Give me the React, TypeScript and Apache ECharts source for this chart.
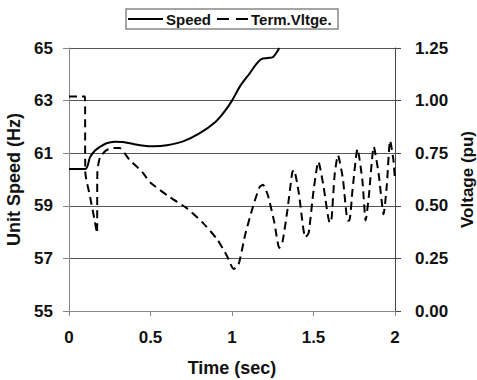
import React, { useEffect, useRef } from "react";
import * as echarts from "echarts";

const speedData: [number, number][] = [
  [0, 60.4], [0.1, 60.4], [0.13, 60.86], [0.16, 61.1], [0.19, 61.24], [0.23, 61.38],
  [0.28, 61.44], [0.33, 61.43], [0.4, 61.34], [0.46, 61.28], [0.52, 61.26], [0.6, 61.3],
  [0.7, 61.45], [0.8, 61.75], [0.9, 62.2], [0.95, 62.55], [1.0, 63.0], [1.05, 63.55],
  [1.11, 64.05], [1.15, 64.4], [1.18, 64.58], [1.22, 64.62], [1.25, 64.65], [1.29, 65.0],
];

const voltageData: [number, number][] = [
  [0, 1.02], [0.098, 1.02], [0.1, 0.66], [0.13, 0.54], [0.155, 0.44], [0.172, 0.37],
  [0.174, 0.66], [0.19, 0.73], [0.23, 0.765], [0.28, 0.775], [0.31, 0.775], [0.37, 0.72],
  [0.45, 0.66], [0.5, 0.61], [0.62, 0.54], [0.72, 0.49], [0.82, 0.42], [0.91, 0.34],
  [0.97, 0.26], [1.01, 0.2], [1.04, 0.22], [1.08, 0.36], [1.13, 0.5], [1.17, 0.59],
  [1.19, 0.6], [1.22, 0.55], [1.26, 0.42], [1.29, 0.3], [1.31, 0.33], [1.34, 0.48],
  [1.37, 0.66], [1.38, 0.67], [1.41, 0.56], [1.45, 0.35], [1.47, 0.37], [1.5, 0.57],
  [1.53, 0.71], [1.56, 0.6], [1.6, 0.42], [1.61, 0.43], [1.63, 0.65], [1.65, 0.74],
  [1.68, 0.63], [1.71, 0.43], [1.72, 0.43], [1.74, 0.58], [1.77, 0.77], [1.8, 0.62],
  [1.82, 0.43], [1.84, 0.55], [1.87, 0.78], [1.9, 0.65], [1.93, 0.46], [1.95, 0.6],
  [1.97, 0.81], [1.99, 0.72], [2.0, 0.62],
];

const seriesNames = ["Speed", "Term.Vltge."];
const xName = "Time (sec)";
const yLeftName = "Unit Speed (Hz)";
const yRightName = "Voltage (pu)";

const FONT = "'Liberation Sans', Arial, sans-serif";

export default function App() {
  const ref = useRef<HTMLDivElement>(null);
  useEffect(() => {
    if (!ref.current) return;
    const chart = echarts.init(ref.current, null, { renderer: "svg" });
    const labelStyle = { color: "#111", fontWeight: "bold" as const, fontSize: 17, fontFamily: FONT };
    const nameStyle = { color: "#111", fontWeight: "bold" as const, fontSize: 18, fontFamily: FONT };
    chart.setOption({
      animation: false,
      backgroundColor: "#fff",
      grid: { left: 69, right: 82, top: 48, bottom: 69, containLabel: false, outerBoundsMode: "none" },
      xAxis: {
        type: "value",
        min: 0,
        max: 2,
        interval: 0.5,
        name: xName,
        nameLocation: "middle",
        nameGap: 48,
        nameTextStyle: nameStyle,
        axisLine: { show: true, lineStyle: { color: "#888", width: 1 } },
        axisTick: { show: true, length: 5, lineStyle: { color: "#888" } },
        axisLabel: { ...labelStyle, margin: 18 },
        splitLine: { show: false },
      },
      yAxis: [
        {
          type: "value",
          min: 55,
          max: 65,
          interval: 2,
          name: yLeftName,
          nameLocation: "middle",
          nameGap: 43,
          nameTextStyle: nameStyle,
          axisLine: { show: true, lineStyle: { color: "#888", width: 1 } },
          axisTick: { show: true, length: 6, lineStyle: { color: "#888" } },
          axisLabel: { ...labelStyle, margin: 16 },
          splitLine: { show: true, lineStyle: { color: "#555", width: 1 } },
        },
        {
          type: "value",
          min: 0,
          max: 1.25,
          interval: 0.25,
          name: yRightName,
          nameLocation: "middle",
          nameGap: 63,
          nameRotate: 90,
          nameTextStyle: { ...nameStyle, fontSize: 17 },
          axisLine: { show: true, lineStyle: { color: "#444", width: 1 } },
          axisTick: { show: true, length: 6, lineStyle: { color: "#444" } },
          axisLabel: { ...labelStyle, margin: 20, formatter: (v: number) => v.toFixed(2) },
          splitLine: { show: false },
        },
      ],
      graphic: [
        {
          type: "rect",
          shape: { x: 126, y: 9, width: 212, height: 20 },
          style: { fill: "#fff", stroke: "#888", lineWidth: 1.5 },
        },
        {
          type: "line",
          shape: { x1: 128, y1: 19, x2: 163, y2: 19 },
          style: { stroke: "#000", lineWidth: 2 },
        },
        {
          type: "text",
          x: 166,
          y: 19,
          style: { text: seriesNames[0], fill: "#111", font: `bold 15px ${FONT}`, verticalAlign: "middle" },
        },
        {
          type: "line",
          shape: { x1: 217, y1: 19, x2: 248, y2: 19 },
          style: { stroke: "#000", lineWidth: 2, lineDash: [12, 7] },
        },
        {
          type: "text",
          x: 251,
          y: 19,
          style: { text: seriesNames[1], fill: "#111", font: `bold 15px ${FONT}`, verticalAlign: "middle" },
        },
      ],
      series: [
        {
          name: seriesNames[0],
          type: "line",
          yAxisIndex: 0,
          data: speedData,
          symbol: "none",
          smooth: 0.3,
          lineStyle: { color: "#000", width: 2 },
        },
        {
          name: seriesNames[1],
          type: "line",
          yAxisIndex: 1,
          data: voltageData,
          symbol: "none",
          smooth: 0.2,
          lineStyle: { color: "#000", width: 2, type: [8, 5] },
        },
      ],
    });
    return () => chart.dispose();
  }, []);
  return (
    <div
      ref={ref}
      style={{ position: "fixed", left: 0, top: 0, width: 477, height: 380, background: "#fff" }}
    />
  );
}
